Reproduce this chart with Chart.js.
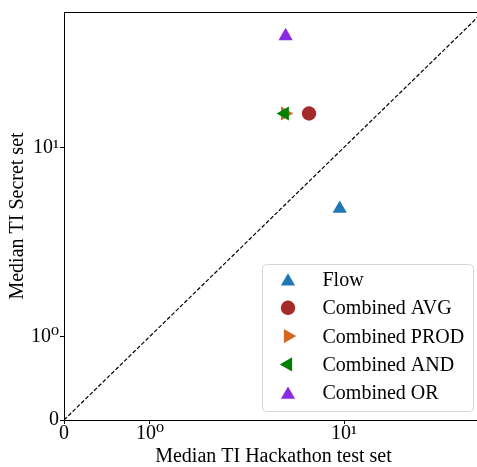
<!DOCTYPE html>
<html>
<head>
<meta charset="utf-8">
<script src="https://cdn.jsdelivr.net/npm/chart.js@4.4.1/dist/chart.umd.min.js"></script>
<style>
  html, body { margin: 0; padding: 0; background: #fff; overflow: hidden; }
  #wrap { width: 477px; height: 467px; }
</style>
</head>
<body>
<div id="wrap"><canvas id="ti-scatter"></canvas></div>
<script>
// data (symlog axes, linthresh = 1)
const methods = ['Flow', 'Combined AVG', 'Combined PROD', 'Combined AND', 'Combined OR'];
const hackathonTI = [9.5, 6.6, 4.97, 4.95, 5.0];
const secretTI = [4.73, 15.1, 15.1, 15.1, 38.8];
const tickValues = [0, 1, 10];
const tickLabels = ['0', '10\u2070', '10\u00B9'];
const diagonal = [0, 100];

const colors = ['#1f77b4', '#a52a2a', '#d2691e', '#008000', '#8a2be2'];
const shapes = ['triangle', 'circle', 'triangle', 'triangle', 'triangle'];
const rotations = [0, 0, 90, -90, 0];
const radii = [8.2, 7.2, 8.2, 8.2, 8.2];

const FONT = "'Liberation Serif', 'DejaVu Serif', serif";
const FSIZE = 20;
const LIN = 0.443; // width of the linear part, in decades

// plot box, as in the reference (right spine falls just off the picture)
const AREA = { left: 64, top: 12, right: 483, bottom: 420 };

function symlog(v) {
    const a = Math.abs(v);
    if (a <= 1) return v * LIN;
    return Math.sign(v) * (LIN + Math.log10(a));
}
function symexp(t) {
    const a = Math.abs(t);
    if (a <= LIN) return t / LIN;
    return Math.sign(t) * Math.pow(10, a - LIN);
}

class SymlogScale extends Chart.LinearScale {
    determineDataLimits() {
        this.min = this.options.min;
        this.max = this.options.max;
    }
    buildTicks() {
        return tickValues.map(v => ({ value: v }));
    }
    configure() {
        super.configure();
        this._tmin = symlog(this.min);
        this._tmax = symlog(this.max);
    }
    getPixelForValue(value) {
        return this.getPixelForDecimal((symlog(value) - this._tmin) / (this._tmax - this._tmin));
    }
    getValueForPixel(pixel) {
        const d = this.getDecimalForPixel(pixel);
        return symexp(this._tmin + d * (this._tmax - this._tmin));
    }
}
SymlogScale.id = 'symlog';
SymlogScale.defaults = Chart.LinearScale.defaults;
Chart.register(SymlogScale);

// pin the plot box, then draw the frame and the legend by hand
const framePlugin = {
    id: 'frame',
    afterLayout(chart) {
        const ca = chart.chartArea;
        Object.assign(ca, AREA);
        ca.width = AREA.right - AREA.left;
        ca.height = AREA.bottom - AREA.top;
        const { x, y } = chart.scales;
        x.left = AREA.left; x.right = AREA.right; x.width = ca.width;
        x.top = AREA.bottom; x.bottom = chart.height; x.height = x.bottom - x.top;
        y.top = AREA.top; y.bottom = AREA.bottom; y.height = ca.height;
        y.left = 0; y.right = AREA.left; y.width = AREA.left;
        x.configure();
        y.configure();
    },
    afterDraw(chart) {
        const { ctx, chartArea } = chart;
        ctx.save();
        ctx.strokeStyle = '#000';
        ctx.lineWidth = 1;
        ctx.strokeRect(chartArea.left + 0.5, chartArea.top + 0.5,
            chartArea.right - chartArea.left, chartArea.bottom - chartArea.top);

        // legend
        const x0 = 262.5, y0 = 264.5, w = 211, h = 147;
        ctx.beginPath();
        ctx.roundRect(x0, y0, w, h, 4);
        ctx.fillStyle = 'rgba(255,255,255,0.8)';
        ctx.fill();
        ctx.strokeStyle = '#d6d6d6';
        ctx.stroke();
        ctx.font = FSIZE + 'px ' + FONT;
        ctx.textBaseline = 'middle';
        methods.forEach((name, i) => {
            const y = 279.5 + i * 28.3;
            ctx.fillStyle = colors[i];
            ctx.strokeStyle = colors[i];
            Chart.helpers.drawPoint(ctx, {
                pointStyle: shapes[i], radius: radii[i], rotation: rotations[i], borderWidth: 0
            }, 288, shapes[i] === 'triangle' && rotations[i] === 0 ? y + 2 : y);
            ctx.fillStyle = '#000';
            ctx.fillText(name, 322.5, y + 1.4);
        });
        ctx.restore();
    }
};

const datasets = methods.map((name, i) => ({
    label: name,
    data: [{ x: hackathonTI[i], y: secretTI[i] }],
    pointStyle: shapes[i],
    rotation: rotations[i],
    pointRadius: radii[i],
    pointHoverRadius: radii[i],
    backgroundColor: colors[i],
    borderColor: colors[i],
    borderWidth: 0,
    order: 10 - i,
}));
datasets.push({
    label: 'y = x',
    type: 'line',
    data: diagonal.map(v => ({ x: v, y: v })),
    borderColor: '#000',
    borderWidth: 1.2,
    borderDash: [4, 2],
    pointRadius: 0,
    order: 20,
});

const axisTitle = text => ({
    display: true,
    text: text,
    color: '#000',
    font: { family: FONT, size: FSIZE },
});

new Chart(document.getElementById('ti-scatter'), {
    type: 'scatter',
    data: { datasets: datasets },
    options: {
        responsive: true,
        maintainAspectRatio: false,
        animation: false,
        layout: { padding: { left: 0, right: 1, top: 12, bottom: 0 } },
        plugins: {
            legend: { display: false },
            tooltip: { enabled: false },
        },
        scales: {
            x: {
                type: 'symlog',
                min: 0,
                max: 52,
                border: { display: false },
                grid: { drawOnChartArea: false, tickLength: 4, color: '#000' },
                ticks: {
                    color: '#000',
                    padding: -2,
                    maxRotation: 0,
                    autoSkip: false,
                    font: { family: FONT, size: FSIZE },
                    callback: (v) => tickLabels[tickValues.indexOf(v)],
                },
                title: { ...axisTitle('Median TI Hackathon test set'), padding: { top: 0, bottom: -2 } },
                afterFit: s => { s.height = 47; },
            },
            y: {
                type: 'symlog',
                min: 0,
                max: 52,
                border: { display: false },
                grid: { drawOnChartArea: false, tickLength: 4, color: '#000' },
                ticks: {
                    color: '#000',
                    padding: 1,
                    autoSkip: false,
                    font: { family: FONT, size: FSIZE },
                    callback: (v) => tickLabels[tickValues.indexOf(v)],
                },
                title: { ...axisTitle('Median TI Secret set'), padding: { bottom: 0, top: 6 } },
                afterFit: s => { s.width = 64; },
            },
        },
    },
    plugins: [framePlugin],
});
</script>
</body>
</html>
